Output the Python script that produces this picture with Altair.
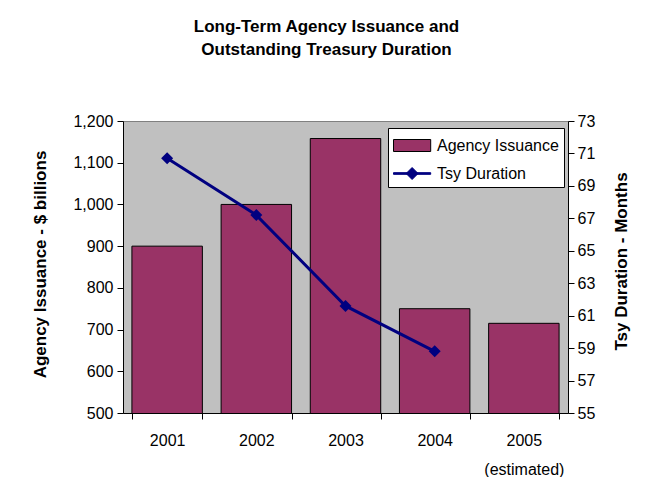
import altair as alt
import pandas as pd

# ---- data ----
years = ["2001", "2002", "2003", "2004", "2005"]
issuance = [900, 1000, 1158, 750, 715]          # $ billions (left axis)
duration = [70.7, 67.2, 61.6, 58.8, None]       # months (right axis)

series_names = ["Agency Issuance", "Tsy Duration"]
fill_colors = ["#993366", "#000080"]
stroke_colors = ["#000000", "#000080"]
legend_paths = [
    "M-1,-0.5L2.1,-0.5L2.1,0.5L-1,0.5Z",
    "M-1,-0.07L2.1,-0.07L2.1,0.07L-1,0.07ZM0.55,-0.5L1.05,0L0.55,0.5L0.05,0Z",
]
left_ticks = [500, 600, 700, 800, 900, 1000, 1100, 1200]
right_ticks = [55, 57, 59, 61, 63, 65, 67, 69, 71, 73]
title_lines = ["Long-Term Agency Issuance and", "Outstanding Treasury Duration"]

df = pd.DataFrame({"year": years, "issuance": issuance, "duration": duration})
FONT = "Liberation Sans"

x_enc = alt.X(
    "year:N", sort=years,
    scale=alt.Scale(paddingInner=0.21, paddingOuter=0.1),
    axis=alt.Axis(
        title=None, labelAngle=0, tickBand="extent",
        labelExpr="datum.value == '2005' ? ['2005', '(estimated)'] : datum.value",
        labelLineHeight=29, labelPadding=13,
    ),
)

legend = alt.Legend(
    title=None, orient="none", legendX=265, legendY=7,
    fillColor="white", strokeColor="black", padding=5,
    symbolSize=576, symbolStrokeWidth=1, labelOffset=19,
    labelFontSize=16, labelFont=FONT, labelColor="black",
    rowPadding=7, labelLimit=300, symbolOpacity=1,
)

fill_scale = alt.Scale(domain=series_names, range=fill_colors)
stroke_scale = alt.Scale(domain=series_names, range=stroke_colors)
shape_scale = alt.Scale(domain=series_names, range=legend_paths)

base = alt.Chart(df)

y_left = alt.Y(
    "issuance:Q",
    scale=alt.Scale(domain=[500, 1200], nice=False, zero=False),
    axis=alt.Axis(
        values=left_ticks, format=",d", labelPadding=4, labelOverlap=False,
        title="Agency Issuance - $ billions",
        titleX=-83, titleY=143, titleAngle=-90,
        titleAlign="center", titleBaseline="middle",
    ),
)
y_right = alt.Y(
    "duration:Q",
    scale=alt.Scale(domain=[55, 73], nice=False, zero=False),
    axis=alt.Axis(
        orient="right", values=right_ticks, format="d", labelPadding=3,
        labelOverlap=False, tickCount=10,
        title="Tsy Duration - Months",
        titleX=53, titleY=140, titleAngle=-90,
        titleAlign="center", titleBaseline="middle",
    ),
)

bars = base.transform_calculate(series="'Agency Issuance'").mark_bar(
    strokeWidth=1, clip=True
).encode(
    x=x_enc, y=y_left,
    fill=alt.Fill("series:N", scale=fill_scale, legend=legend),
    stroke=alt.Stroke("series:N", scale=stroke_scale, legend=legend),
)
helper = base.transform_calculate(series="'Agency Issuance'").mark_point(
    opacity=0
).encode(
    x=x_enc, y=y_left,
    shape=alt.Shape("series:N", scale=shape_scale, legend=legend),
)

line = base.transform_calculate(series="'Tsy Duration'").mark_line(
    strokeWidth=3
).encode(
    x=x_enc, y=y_right,
    stroke=alt.Stroke("series:N", scale=stroke_scale, legend=legend),
)
points = base.transform_calculate(series="'Tsy Duration'").mark_point(
    filled=True, shape="diamond", size=144, opacity=1
).encode(
    x=x_enc, y=y_right,
    fill=alt.Fill("series:N", scale=fill_scale, legend=legend),
)

left = alt.layer(bars, helper)
right = alt.layer(line, points)

chart = alt.layer(left, right).resolve_scale(y="independent").properties(
    width=445, height=292,
    padding={"left": 115, "top": 113, "right": 76, "bottom": 64},
    autosize="none",
    background="white",
    title=alt.Title(title_lines, anchor="middle", dx=-19, offset=54),
).configure_view(
    fill="#c0c0c0", stroke="#808080", strokeWidth=1
).configure_axis(
    domainColor="black", tickColor="black", labelColor="black",
    labelFont=FONT, labelFontSize=16, titleFont=FONT, titleFontSize=17,
    titleFontWeight="bold", titleColor="black", grid=False, tickSize=6,
).configure_title(
    font=FONT, fontSize=17, fontWeight="bold", color="black", lineHeight=23
)

chart.save("out.html", embed_options={"renderer": "svg", "actions": False})
